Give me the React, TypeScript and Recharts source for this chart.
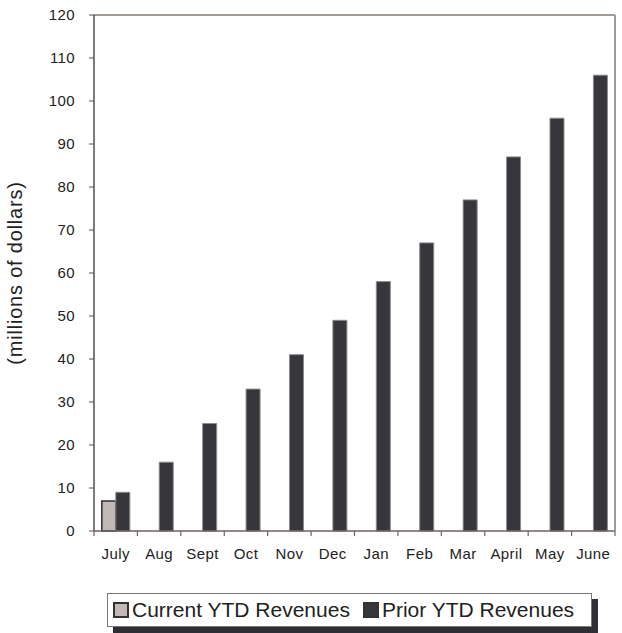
import { Bar, BarChart, XAxis, YAxis } from "recharts";

const months = ["July", "Aug", "Sept", "Oct", "Nov", "Dec", "Jan", "Feb", "Mar", "April", "May", "June"];
const currentYtd = [7, null, null, null, null, null, null, null, null, null, null, null];
const priorYtd = [9, 16, 25, 33, 41, 49, 58, 67, 77, 87, 96, 106];
const yTicks = [0, 10, 20, 30, 40, 50, 60, 70, 80, 90, 100, 110, 120];

const data = months.map((month, i) => ({
  month,
  current: currentYtd[i],
  prior: priorYtd[i],
}));

const font = '"Liberation Sans", Arial, sans-serif';
const tickStyle = { fill: "#222", fontSize: 15, fontFamily: font, letterSpacing: 0.4 };
const axisColor = "#6b6260";
const labelGap = 17;

// month label plus tick marks on the boundaries between months
function MonthTick(props: any) {
  const { x, y, payload, width } = props;
  const half = payload.offset || width / months.length / 2;
  const axisY = y - labelGap;
  const last = payload.index === months.length - 1;
  return (
    <g>
      <line x1={x - half} x2={x - half} y1={axisY} y2={axisY + 5} stroke={axisColor} strokeWidth={1.2} />
      {last && (
        <line x1={x + half} x2={x + half} y1={axisY} y2={axisY + 5} stroke={axisColor} strokeWidth={1.2} />
      )}
      <text x={x} y={y} dy="0.71em" textAnchor="middle" {...tickStyle}>
        {payload.value}
      </text>
    </g>
  );
}

function LegendItem({ label, color }: { label: string; color: string }) {
  return (
    <div style={{ display: "flex", alignItems: "center" }}>
      <span
        style={{
          width: 12,
          height: 12,
          border: "2px solid #333",
          background: color,
          marginRight: 3,
        }}
      />
      <span>{label}</span>
    </div>
  );
}

export default function App() {
  return (
    <div style={{ position: "absolute", left: 0, top: 0, width: 622, height: 633, background: "#fff" }}>
      <BarChart
        width={622}
        height={633}
        data={data}
        margin={{ top: 14, right: 6, left: 0, bottom: 62 }}
        barCategoryGap="18%"
        barGap={0}
      >
        <XAxis
          dataKey="month"
          height={40}
          tick={<MonthTick />}
          tickLine={false}
          tickSize={0}
          tickMargin={labelGap}
          axisLine={{ stroke: axisColor, strokeWidth: 1.5 }}
          interval={0}
        />
        <XAxis
          xAxisId="top"
          dataKey="month"
          orientation="top"
          height={1}
          tick={false}
          tickLine={false}
          axisLine={{ stroke: "#a29896", strokeWidth: 2 }}
        />
        <YAxis
          width={94}
          domain={[0, 120]}
          ticks={yTicks}
          interval={0}
          tick={tickStyle}
          tickSize={5}
          tickMargin={14}
          tickLine={{ stroke: "#5a4f4d" }}
          axisLine={{ stroke: "#5a4f4d", strokeWidth: 1.5 }}
          label={{
            value: "(millions of dollars)",
            angle: -90,
            position: "center",
            dx: -32,
            style: { fill: "#222", fontSize: 20, fontFamily: font, letterSpacing: 0.8 },
          }}
        />
        <YAxis
          yAxisId="right"
          orientation="right"
          width={1}
          domain={[0, 120]}
          tick={false}
          tickLine={false}
          axisLine={{ stroke: "#a29896", strokeWidth: 2 }}
        />
        <Bar
          dataKey="current"
          fill="#c2b9b6"
          stroke="#2f2e33"
          strokeWidth={1.5}
          isAnimationActive={false}
        />
        <Bar
          dataKey="prior"
          fill="#37363b"
          stroke="#8a8a8e"
          strokeWidth={1}
          isAnimationActive={false}
        />
      </BarChart>
      <div
        style={{
          position: "absolute",
          left: 107,
          top: 593,
          width: 485,
          height: 34,
          boxSizing: "border-box",
          border: "1px solid #777",
          background: "#fff",
          boxShadow: "6px 6px 0 #2f2e33",
          display: "flex",
          alignItems: "center",
          paddingLeft: 5,
          gap: 13,
          fontFamily: font,
          fontSize: 21,
          color: "#222",
        }}
      >
        <LegendItem label="Current YTD Revenues" color="#c2b9b6" />
        <LegendItem label="Prior YTD Revenues" color="#37363b" />
      </div>
    </div>
  );
}
